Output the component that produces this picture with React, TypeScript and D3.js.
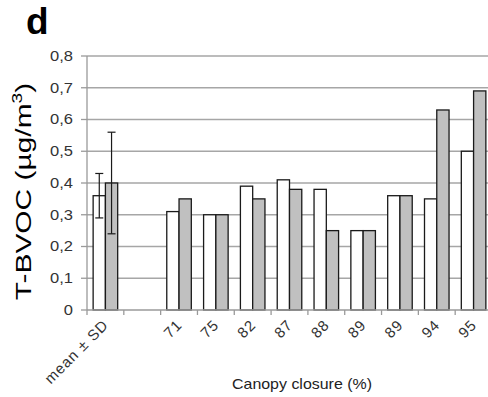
import React from "react";
import * as d3 from "d3";

// Canopy closure classes (first group = mean ± SD, second = spacer)
const categories = ["mean ± SD", "", "71", "75", "82", "87", "88", "89", "89", "94", "95"];
const seriesA = [0.36, null, 0.31, 0.3, 0.39, 0.41, 0.38, 0.25, 0.36, 0.35, 0.5];
const seriesB = [0.4, null, 0.35, 0.3, 0.35, 0.38, 0.25, 0.25, 0.36, 0.63, 0.69];
const sdA = [0.07];
const sdB = [0.16];
const yTicks = [0, 0.1, 0.2, 0.3, 0.4, 0.5, 0.6, 0.7, 0.8];

const W = 488;
const H = 397;
const left = 87;
const right = 492;
const top = 56;
const bottom = 310;

const FONT = "'Liberation Sans', Arial, sans-serif";

export default function App() {
  const x = d3
    .scaleBand<number>()
    .domain(categories.map((_, i) => i))
    .range([left, right])
    .paddingInner(1 / 3)
    .paddingOuter(1 / 6);
  const step = x.step();
  const sub = d3.scaleBand<string>().domain(["A", "B"]).range([0, x.bandwidth()]);
  const y = d3.scaleLinear().domain([0, 0.8]).range([bottom, top]);
  const fmt = (v: number) => (v === 0 ? "0" : d3.format(".1f")(v).replace(".", ","));

  const boundaries = d3.range(categories.length + 1).map((i) => left + i * step);

  const bars: { key: string; x: number; v: number; fill: string; sd?: number }[] = [];
  categories.forEach((_, i) => {
    const a = seriesA[i];
    const b = seriesB[i];
    if (a != null) bars.push({ key: `a${i}`, x: (x(i) ?? 0) + (sub("A") ?? 0), v: a, fill: "#ffffff", sd: i === 0 ? sdA[0] : undefined });
    if (b != null) bars.push({ key: `b${i}`, x: (x(i) ?? 0) + (sub("B") ?? 0), v: b, fill: "#c0c0c0", sd: i === 0 ? sdB[0] : undefined });
  });
  const bw = sub.bandwidth();

  return (
    <svg
      width={W}
      height={H}
      style={{ position: "absolute", left: 0, top: 0, background: "#fff" }}
      fontFamily={FONT}
    >
      {/* panel letter */}
      <text x={26} y={34} fontSize={37} fontWeight="bold" fill="#000">
        d
      </text>

      {/* gridlines */}
      {yTicks.slice(1).map((t) => (
        <line key={t} x1={left} x2={right} y1={y(t)} y2={y(t)} stroke="#a6a6a6" strokeWidth={1.3} />
      ))}

      {/* y axis */}
      <line x1={left} x2={left} y1={top} y2={bottom} stroke="#9a9a9a" strokeWidth={1.3} />
      {yTicks.map((t) => (
        <g key={t}>
          <line x1={left - 6} x2={left} y1={y(t)} y2={y(t)} stroke="#9a9a9a" strokeWidth={1.3} />
          <g transform={`translate(${73},${y(t)}) scale(1.18,1)`}>
            <text textAnchor="end" dy="0.35em" fontSize={14} fill="#333">
              {fmt(t)}
            </text>
          </g>
        </g>
      ))}

      {/* bars */}
      {bars.map((b) => (
        <rect
          key={b.key}
          x={b.x}
          y={y(b.v)}
          width={bw}
          height={y(0) - y(b.v)}
          fill={b.fill}
          stroke="#1a1a1a"
          strokeWidth={1.3}
        />
      ))}

      {/* error bars */}
      {bars
        .filter((b) => b.sd != null)
        .map((b) => {
          const cx = b.x + bw / 2;
          const hi = y(b.v + (b.sd as number));
          const lo = y(b.v - (b.sd as number));
          return (
            <g key={`e${b.key}`} stroke="#1a1a1a" strokeWidth={1.2}>
              <line x1={cx} x2={cx} y1={hi} y2={lo} />
              <line x1={cx - 4} x2={cx + 4} y1={hi} y2={hi} />
              <line x1={cx - 4} x2={cx + 4} y1={lo} y2={lo} />
            </g>
          );
        })}

      {/* x axis */}
      <line x1={left} x2={right} y1={bottom} y2={bottom} stroke="#9a9a9a" strokeWidth={1.3} />
      {boundaries.map((bx, i) => (
        <line key={i} x1={bx} x2={bx} y1={bottom} y2={bottom + 5} stroke="#9a9a9a" strokeWidth={1.3} />
      ))}
      {categories.map((c, i) => (
        <text
          key={i}
          transform={`translate(${(x(i) ?? 0) + x.bandwidth() / 2 + 4},${326}) rotate(-45)`}
          textAnchor="end"
          fontSize={15}
          letterSpacing={0.9}
          fill="#333"
        >
          {c}
        </text>
      ))}

      {/* axis titles */}
      <text x={302} y={389} textAnchor="middle" fontSize={14.5} fill="#222" textLength={140} lengthAdjust="spacingAndGlyphs">
        Canopy closure (%)
      </text>
      <g transform={`translate(31,191.5) rotate(-90) scale(1.36,1)`}>
        <text textAnchor="middle" fontSize={22} fill="#000">
          T-BVOC (µg/m
          <tspan fontSize={14} dy={-9}>
            3
          </tspan>
          <tspan dy={9}>)</tspan>
        </text>
      </g>
    </svg>
  );
}
